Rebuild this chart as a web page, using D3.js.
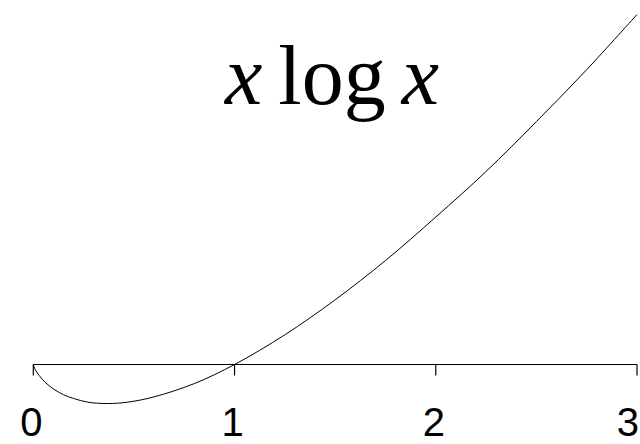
<!DOCTYPE html>
<html><head><meta charset="utf-8">
<script src="https://cdn.jsdelivr.net/npm/d3@7"></script>
<style>html,body{margin:0;padding:0;background:#fff;overflow:hidden}</style>
</head><body>
<script>
const xValues = [0, 0.01, 0.03, 0.06, 0.1, 0.15, 0.2, 0.27, 0.37, 0.47, 0.6, 0.8, 1, 1.25, 1.5, 1.75, 2, 2.25, 2.5, 2.75, 3];
const yValues = [0, -0.05, -0.105, -0.17, -0.23, -0.285, -0.32, -0.355, -0.368, -0.355, -0.305, -0.18, 0, 0.28, 0.61, 0.98, 1.39, 1.82, 2.29, 2.78, 3.30];
const tickValues = [0, 1, 2, 3];
const tickLabels = ["0", "1", "2", "3"];
const titleParts = ["x", "log", "x"];

const W = 640, H = 444;
const svg = d3.select("body").append("svg").attr("width", W).attr("height", H);

const x = d3.scaleLinear().domain([0, 3]).range([33.3, 637]);
const y = d3.scaleLinear().domain([0, 3.3]).range([364.5, 14.5]);

svg.append("line").attr("x1", x(0)).attr("x2", x(3)).attr("y1", y(0)).attr("y2", y(0))
  .attr("stroke", "#000").attr("stroke-width", 1.2);
svg.selectAll("line.tick").data(tickValues).enter().append("line").attr("class","tick")
  .attr("x1", d => x(d)).attr("x2", d => x(d)).attr("y1", y(0)).attr("y2", y(0) + 11)
  .attr("stroke", "#000").attr("stroke-width", 1.2);
const lastTick = tickValues[tickValues.length - 1];
svg.selectAll("text.lab").data(tickValues).enter().append("text").attr("class","lab")
  .attr("x", d => d === lastTick ? W - 1 : x(d) - 2).attr("y", 436)
  .attr("text-anchor", d => d === lastTick ? "end" : "middle")
  .attr("font-family", "Liberation Sans, Arial, sans-serif").attr("font-size", 40)
  .text((d, i) => tickLabels[i]);

const pts = xValues.map((v, i) => [v, yValues[i]]);
svg.append("path").datum(pts)
  .attr("d", d3.line().x(d => x(d[0])).y(d => y(d[1])).curve(d3.curveCatmullRom.alpha(0.5)))
  .attr("fill", "none").attr("stroke", "#000").attr("stroke-width", 1);

const t = svg.append("text").attr("x", 332).attr("y", 104).attr("text-anchor", "middle")
  .attr("font-family", "Liberation Serif, Times New Roman, serif").attr("font-size", 84);
t.append("tspan").attr("font-style", "italic").text(titleParts[0]);
t.append("tspan").attr("dx", 16).text(titleParts[1]);
t.append("tspan").attr("dx", 16).attr("font-style", "italic").text(titleParts[2]);
</script>
</body></html>
